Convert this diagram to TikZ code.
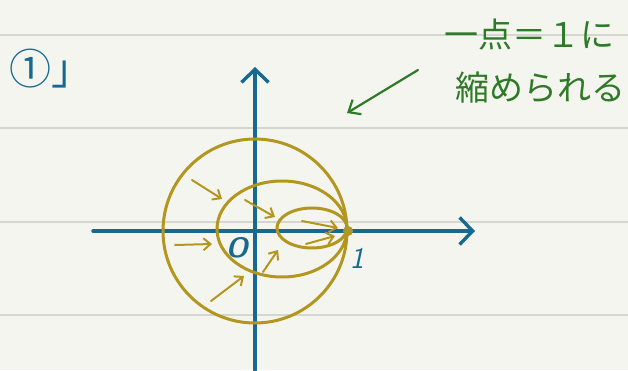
\documentclass[tikz,border=0pt]{standalone}
\usepackage{fontspec}
\usetikzlibrary{arrows.meta}
\newfontfamily\jpfont{Noto Sans CJK JP}
\definecolor{NoteBG}{HTML}{F5F5EF}
\definecolor{RuleGray}{HTML}{D6D6D0}
\definecolor{AxisBlue}{HTML}{16698F}
\definecolor{LoopGold}{HTML}{B3961F}
\definecolor{InkGreen}{HTML}{2F7A28}

\begin{document}
\begin{tikzpicture}[x=1pt,y=1pt,
  rule/.style={line width=2.2pt,RuleGray},
  axis/.style={line width=3.4pt,AxisBlue,line cap=round,-{Straight Barb[length=13pt,width=27pt]}},
  loop/.style={line width=3pt,LoopGold},
  shrink/.style={line width=2pt,LoopGold,line cap=round,-{Straight Barb[length=7pt,width=12pt]}},
  pointer/.style={line width=2.2pt,InkGreen,line cap=round,-{Straight Barb[length=10pt,width=17pt]}},
  note/.style={InkGreen,font=\jpfont\fontsize{34}{40}\selectfont,inner sep=0pt},
  mark label/.style={AxisBlue,font=\sffamily\bfseries\itshape\fontsize{28}{32}\selectfont,inner sep=0pt}]
\fill[NoteBG] (-255,-139) rectangle (373,231);
\useasboundingbox (-255,-139) rectangle (373,231);
% ruled paper
\foreach \y in {196,103,9,-84}
  \draw[rule] (-255,\y)--(373,\y);
% axes
\draw[axis] (-162,0)--(220,0);
\draw[axis] (0,-139)--(0,164);
% loops pulled to 1
\draw[loop] (0,0) circle (92);
\draw[loop] (27,2) ellipse (65 and 48);
\draw[loop] (57,3) ellipse (35 and 20);
\coordinate (one) at (93,0);
\fill[LoopGold] (one) circle (5);
\foreach \a/\b/\c/\d in {-63/51/-33/32, -10/31/20/14, -80/-14/-43/-13,
    -44/-70/-11/-45, 8/-41/23/-19, 47/10/83/3, 51/-13/80/-5}
  \draw[shrink] (\a,\b)--(\c,\d);
\node[mark label] (zero) at (-18,-17) {O};
\node[mark label,font=\sffamily\itshape\fontsize{30}{34}\selectfont] (unit) at (102,-27) {1};
% comment
\node[note] (line1) at (274,196) {一点＝１に};
\node[note] (line2) at (285,143) {縮められる};
\coordinate (hint) at (163,161);
\coordinate (target) at (92,118);
\draw[pointer] (hint)--(target);
\node[AxisBlue,font=\jpfont\fontsize{42}{48}\selectfont,inner sep=0pt] (title) at (-203,162) {①」};
\end{tikzpicture}
\end{document}
